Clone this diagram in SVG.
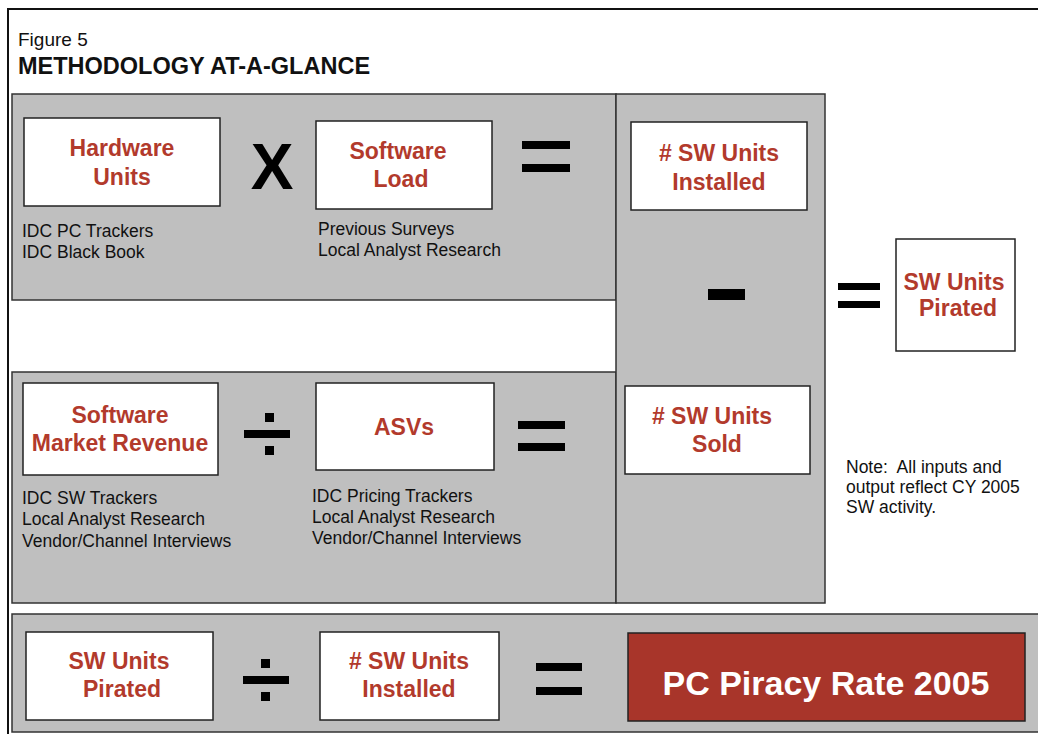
<svg xmlns="http://www.w3.org/2000/svg" width="1038" height="734" viewBox="0 0 1038 734">
<style>
.panel{fill:#bfbfbf;stroke:#333;stroke-width:1.5}
.box{fill:#fff;stroke:#222;stroke-width:1.5}
.lbl{font-family:"Liberation Sans",Arial,sans-serif;font-weight:bold;font-size:23px;fill:#b23a2c;text-anchor:middle}
.src{font-family:"Liberation Sans",Arial,sans-serif;font-size:17.5px;fill:#111;white-space:pre}
.op{fill:#000}
</style>
<rect x="0" y="0" width="1038" height="734" fill="#fff"/>
<rect x="8" y="9" width="1040" height="740" fill="none" stroke="#111" stroke-width="2"/>
<text x="18" y="46" font-family="Liberation Sans,Arial,sans-serif" font-size="19" fill="#111">Figure 5</text>
<text x="18" y="74" font-family="Liberation Sans,Arial,sans-serif" font-size="23.5" font-weight="bold" fill="#111">METHODOLOGY AT-A-GLANCE</text>

<g id="panels">
<rect class="panel" x="12" y="94" width="604" height="206"/>
<rect class="panel" x="12" y="372" width="604" height="231"/>
<rect class="panel" x="616" y="94" width="209" height="509"/>
<rect class="panel" x="12" y="614" width="1040" height="118"/>
</g>

<g id="hardware-units">
<rect class="box" x="24" y="118" width="196" height="88"/>
<text class="lbl" x="122" y="156">Hardware</text>
<text class="lbl" x="122" y="185">Units</text>
<text class="src" x="22" y="237">IDC PC Trackers</text>
<text class="src" x="22" y="258">IDC Black Book</text>
</g>
<g id="op-times">
<text x="272" y="189" font-family="Liberation Sans,Arial,sans-serif" font-weight="bold" font-size="64" text-anchor="middle" fill="#000">X</text>
</g>
<g id="software-load">
<rect class="box" x="316" y="121" width="176" height="88"/>
<text class="lbl" x="398" y="159">Software</text>
<text class="lbl" x="401" y="187">Load</text>
<text class="src" x="318" y="235">Previous Surveys</text>
<text class="src" x="318" y="256">Local Analyst Research</text>
</g>
<g id="op-eq1">
<rect class="op" x="522" y="141" width="48" height="8"/>
<rect class="op" x="522" y="164" width="48" height="8"/>
</g>
<g id="sw-installed">
<rect class="box" x="631" y="122" width="176" height="88"/>
<text class="lbl" x="719" y="161"># SW Units</text>
<text class="lbl" x="719" y="190">Installed</text>
</g>
<g id="op-minus">
<rect class="op" x="708" y="289" width="37" height="11"/>
</g>
<g id="op-eq2">
<rect class="op" x="838" y="283" width="42" height="7"/>
<rect class="op" x="838" y="301" width="42" height="7"/>
</g>
<g id="sw-pirated">
<rect class="box" x="896" y="239" width="119" height="112"/>
<text class="lbl" x="954" y="290">SW Units</text>
<text class="lbl" x="958" y="316">Pirated</text>
</g>
<g id="software-revenue">
<rect class="box" x="23" y="383" width="195" height="92"/>
<text class="lbl" x="120" y="423">Software</text>
<text class="lbl" x="120" y="451">Market Revenue</text>
<text class="src" x="22" y="504">IDC SW Trackers</text>
<text class="src" x="22" y="525">Local Analyst Research</text>
<text class="src" x="22" y="547">Vendor/Channel Interviews</text>
</g>
<g id="op-div1">
<rect class="op" x="265" y="413" width="9" height="9"/>
<rect class="op" x="244" y="430" width="46" height="8"/>
<rect class="op" x="265" y="446" width="9" height="9"/>
</g>
<g id="asvs">
<rect class="box" x="316" y="383" width="178" height="87"/>
<text class="lbl" x="404" y="435">ASVs</text>
<text class="src" x="312" y="502">IDC Pricing Trackers</text>
<text class="src" x="312" y="523">Local Analyst Research</text>
<text class="src" x="312" y="544">Vendor/Channel Interviews</text>
</g>
<g id="op-eq3">
<rect class="op" x="518" y="421" width="47" height="8"/>
<rect class="op" x="518" y="443" width="47" height="8"/>
</g>
<g id="sw-sold">
<rect class="box" x="625" y="386" width="185" height="88"/>
<text class="lbl" x="712" y="424"># SW Units</text>
<text class="lbl" x="717" y="452">Sold</text>
</g>
<g id="note">
<text class="src" x="846" y="473">Note:  All inputs and</text>
<text class="src" x="846" y="493">output reflect CY 2005</text>
<text class="src" x="846" y="513">SW activity.</text>
</g>
<g id="bottom-pirated">
<rect class="box" x="26" y="632" width="187" height="88"/>
<text class="lbl" x="119" y="669">SW Units</text>
<text class="lbl" x="122" y="697">Pirated</text>
</g>
<g id="op-div2">
<rect class="op" x="261" y="659" width="9" height="9"/>
<rect class="op" x="243" y="676" width="46" height="8"/>
<rect class="op" x="261" y="692" width="9" height="9"/>
</g>
<g id="bottom-installed">
<rect class="box" x="320" y="632" width="179" height="88"/>
<text class="lbl" x="409" y="669"># SW Units</text>
<text class="lbl" x="409" y="697">Installed</text>
</g>
<g id="op-eq4">
<rect class="op" x="536" y="663" width="46" height="8"/>
<rect class="op" x="536" y="687" width="46" height="8"/>
</g>
<g id="piracy-rate">
<rect x="628" y="633" width="397" height="88" fill="#a8352a" stroke="#222" stroke-width="1.5"/>
<text x="826" y="695" font-family="Liberation Sans,Arial,sans-serif" font-weight="bold" font-size="34" fill="#fff" text-anchor="middle">PC Piracy Rate 2005</text>
</g>
<g id="connectors"></g>
</svg>
